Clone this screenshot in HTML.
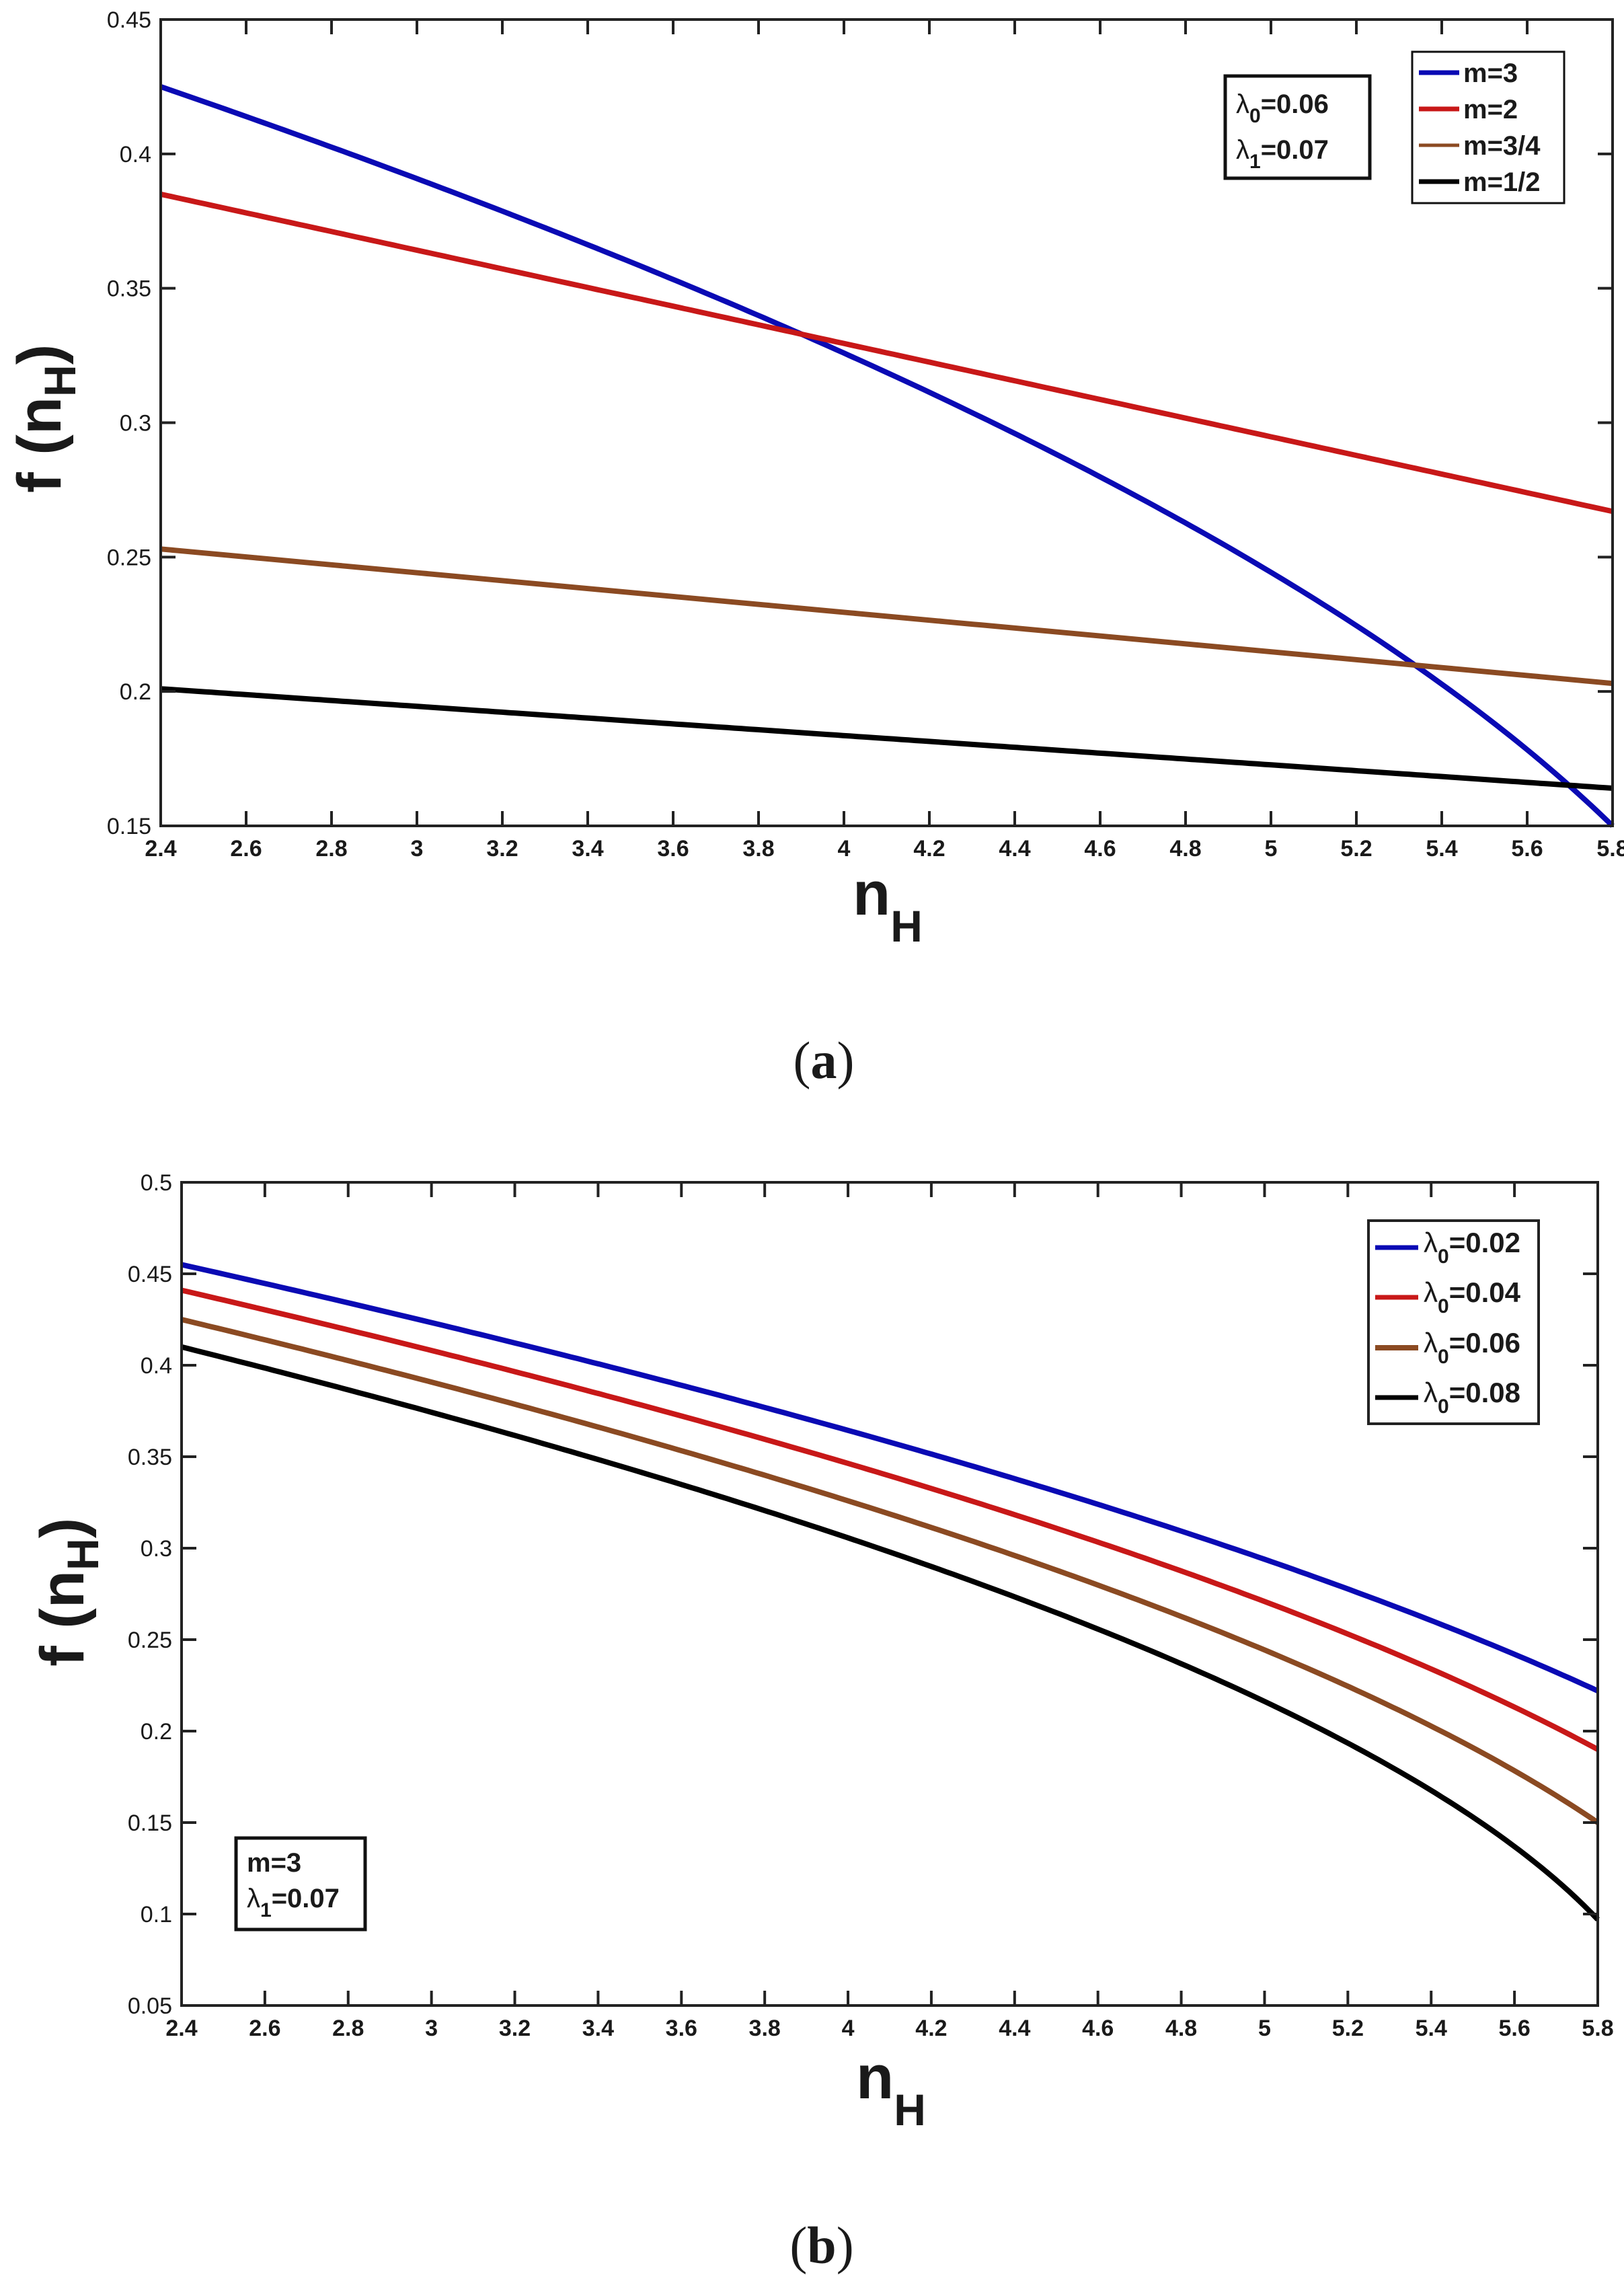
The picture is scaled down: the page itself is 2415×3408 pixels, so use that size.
<!DOCTYPE html>
<html><head><meta charset="utf-8"><style>
html,body{margin:0;padding:0;background:#fff;}
svg{display:block;}
text{font-family:"Liberation Sans",Arial,sans-serif;fill:#1a1a1a;}
</style></head><body>
<svg id="s" width="2415" height="3408" viewBox="0 0 2415 3408" xmlns="http://www.w3.org/2000/svg">
<rect width="2415" height="3408" fill="#fff"/>
<g id="g"></g>
</svg>
<script>
const NS="http://www.w3.org/2000/svg";
const g=document.getElementById('g');
function el(t,a,txt){const e=document.createElementNS(NS,t);for(const k in a)e.setAttribute(k,a[k]);if(txt!==undefined)e.textContent=txt;g.appendChild(e);return e;}
function plot(P){
 const X=x=>P.L+(x-2.4)/3.4*(P.R-P.L);
 const Y=y=>P.B-(y-P.y0)/(P.y1-P.y0)*(P.B-P.T);
 P.curves.forEach(c=>{let pts=[];for(let i=0;i<=200;i++){const x=2.4+3.4*i/200;pts.push(X(x).toFixed(1)+','+Y(c.f(x)).toFixed(1));}
  el('polyline',{points:pts.join(' '),fill:'none',stroke:c.col,'stroke-width':8,'stroke-linejoin':'round'});});
 el('rect',{x:P.L,y:P.T,width:P.R-P.L,height:P.B-P.T,fill:'none',stroke:'#222','stroke-width':4});
 for(let i=0;i<=17;i++){const x=2.4+0.2*i,px=X(x);
  if(i>0&&i<17){el('line',{x1:px,y1:P.B,x2:px,y2:P.B-22,stroke:'#222','stroke-width':4});el('line',{x1:px,y1:P.T,x2:px,y2:P.T+22,stroke:'#222','stroke-width':4});}
  let s=(Math.round(x*10)/10).toString();
  el('text',{x:px,y:P.B+45,'font-size':34,'font-weight':'bold','text-anchor':'middle'},s);}
 const n=Math.round((P.y1-P.y0)/0.05);
 for(let i=0;i<=n;i++){const y=P.y0+0.05*i,py=Y(y);
  if(i>0&&i<n){el('line',{x1:P.L,y1:py,x2:P.L+22,y2:py,stroke:'#222','stroke-width':4});el('line',{x1:P.R,y1:py,x2:P.R-22,y2:py,stroke:'#222','stroke-width':4});}
  let s=(Math.round(y*100)/100).toString();
  el('text',{x:P.L-14,y:py+12,'font-size':34,'text-anchor':'end'},s);}
}
plot({L:239,R:2398,T:29,B:1228,y0:0.15,y1:0.45,curves:[
 {col:'#0a0ab4',f:x=>Math.sqrt(0.180625-(x-2.4)/3.4*(0.180625-0.0225))},
 {col:'#c81818',f:x=>0.385-(x-2.4)/3.4*0.118},
 {col:'#8b4a22',f:x=>0.253-(x-2.4)/3.4*0.050},
 {col:'#000',f:x=>0.201-(x-2.4)/3.4*0.037}]});
function sq(a,b){return x=>Math.sqrt(a*a-(x-2.4)/3.4*(a*a-b*b));}
plot({L:270,R:2376,T:1758,B:2982,y0:0.05,y1:0.5,curves:[
 {col:'#0a0ab4',f:sq(0.455,0.222)},
 {col:'#c81818',f:sq(0.441,0.190)},
 {col:'#8b4a22',f:sq(0.425,0.150)},
 {col:'#000',f:sq(0.410,0.097)}]});
</script>
<svg width="2415" height="3408" viewBox="0 0 2415 3408" xmlns="http://www.w3.org/2000/svg" style="position:absolute;left:0;top:0;">
<g font-family="Liberation Sans, Arial, sans-serif" fill="#111">
<text transform="translate(90,733) rotate(-90)" font-size="92" font-weight="bold">f (n<tspan font-size="66" dy="22">H</tspan><tspan dy="-22">)</tspan></text>
<text x="1268" y="1360" font-size="92" font-weight="bold">n<tspan font-size="66" dy="40">H</tspan></text>
<text x="1225" y="1603" font-size="78" text-anchor="middle" style="font-family:'Liberation Serif',serif">(<tspan font-weight="bold" style="font-family:'Liberation Serif',serif">a</tspan>)</text>
<text transform="translate(124,2478) rotate(-90)" font-size="92" font-weight="bold">f (n<tspan font-size="66" dy="22">H</tspan><tspan dy="-22">)</tspan></text>
<text x="1273" y="3120" font-size="92" font-weight="bold">n<tspan font-size="66" dy="40">H</tspan></text>
<text x="1222" y="3365" font-size="78" text-anchor="middle" style="font-family:'Liberation Serif',serif">(<tspan font-weight="bold" style="font-family:'Liberation Serif',serif">b</tspan>)</text>

<rect x="1822" y="113" width="215" height="152" fill="#fff" stroke="#111" stroke-width="5"/>
<text x="1838" y="168" font-size="40" font-weight="bold"><tspan font-weight="normal">λ</tspan><tspan font-size="30" dy="14">0</tspan><tspan dy="-14">=0.06</tspan></text>
<text x="1838" y="236" font-size="40" font-weight="bold"><tspan font-weight="normal">λ</tspan><tspan font-size="30" dy="14">1</tspan><tspan dy="-14">=0.07</tspan></text>
<rect x="2100" y="77" width="226" height="225" fill="#fff" stroke="#111" stroke-width="3"/>
<line x1="2110" y1="108" x2="2170" y2="108" stroke="#0a0ab4" stroke-width="7"/>
<line x1="2110" y1="162" x2="2170" y2="162" stroke="#c81818" stroke-width="7"/>
<line x1="2110" y1="216" x2="2170" y2="216" stroke="#8b4a22" stroke-width="5"/>
<line x1="2110" y1="270" x2="2170" y2="270" stroke="#000" stroke-width="7"/>
<g font-size="40" font-weight="bold">
<text x="2176" y="122">m=3</text>
<text x="2176" y="176">m=2</text>
<text x="2176" y="230">m=3/4</text>
<text x="2176" y="284">m=1/2</text>
</g>
<rect x="2035" y="1815" width="253" height="302" fill="#fff" stroke="#222" stroke-width="4"/>
<line x1="2045" y1="1855" x2="2109" y2="1855" stroke="#0a0ab4" stroke-width="7"/>
<line x1="2045" y1="1929" x2="2109" y2="1929" stroke="#c81818" stroke-width="7"/>
<line x1="2045" y1="2004" x2="2109" y2="2004" stroke="#8b4a22" stroke-width="8"/>
<line x1="2045" y1="2078" x2="2109" y2="2078" stroke="#000" stroke-width="7"/>
<g font-size="42" font-weight="bold">
<text x="2117" y="1862"><tspan font-weight="normal">λ</tspan><tspan font-size="30" dy="16">0</tspan><tspan dy="-16">=0.02</tspan></text>
<text x="2117" y="1936"><tspan font-weight="normal">λ</tspan><tspan font-size="30" dy="16">0</tspan><tspan dy="-16">=0.04</tspan></text>
<text x="2117" y="2011"><tspan font-weight="normal">λ</tspan><tspan font-size="30" dy="16">0</tspan><tspan dy="-16">=0.06</tspan></text>
<text x="2117" y="2085"><tspan font-weight="normal">λ</tspan><tspan font-size="30" dy="16">0</tspan><tspan dy="-16">=0.08</tspan></text>
</g>
<rect x="351" y="2733" width="192" height="136" fill="#fff" stroke="#111" stroke-width="5"/>
<text x="367" y="2783" font-size="40" font-weight="bold">m=3</text>
<text x="367" y="2836" font-size="40" font-weight="bold"><tspan font-weight="normal">λ</tspan><tspan font-size="30" dy="14">1</tspan><tspan dy="-14">=0.07</tspan></text>
</g>
</svg>
</body></html>
